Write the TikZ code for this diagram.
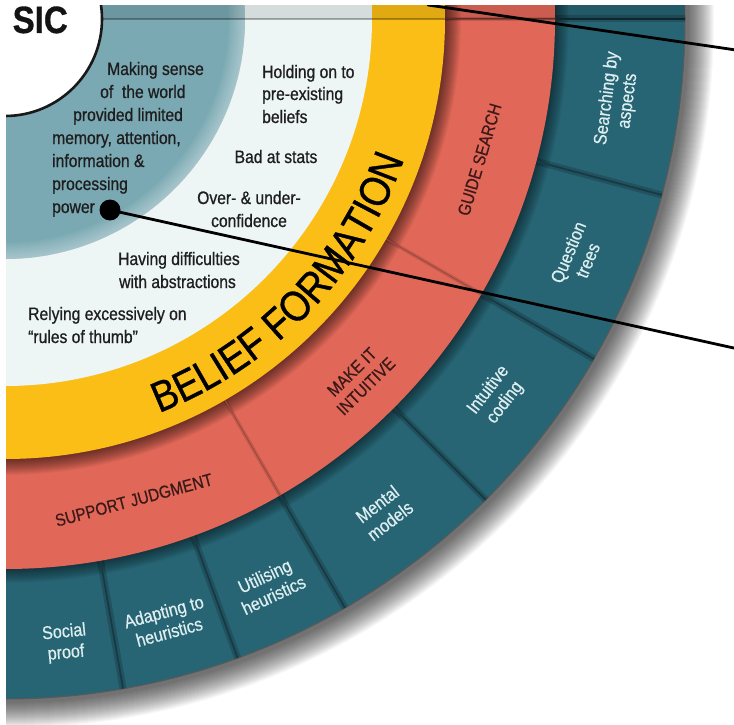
\documentclass[tikz,border=0pt]{standalone}
\usepackage{fontspec}
\setmainfont{Liberation Sans}
\newfontfamily\nar[FakeStretch=0.87,FakeBold=0.8]{Liberation Sans}
\newfontfamily\narl[FakeStretch=0.87,FakeBold=0.5]{Liberation Sans}
\usetikzlibrary{decorations.text}
\definecolor{tealin}{RGB}{122,169,179}
\definecolor{paler}{RGB}{238,245,245}
\definecolor{yel}{RGB}{251,190,22}
\definecolor{cor}{RGB}{225,104,88}
\definecolor{tealout}{RGB}{40,101,116}
\definecolor{divc}{RGB}{24,58,68}
\definecolor{lbl}{RGB}{222,238,240}
\definecolor{redtxt}{RGB}{60,25,25}
\definecolor{txt}{RGB}{30,30,30}
\newcommand\beliefFont{\nar\fontsize{43}{43}\selectfont}
\pgfdeclareradialshading{ballw}{\pgfpoint{0bp}{0bp}}{color(0bp)=(white); color(30bp)=(white); color(42bp)=(black!10); color(48bp)=(black!22); color(50bp)=(black!30)}
\begin{document}
\begin{tikzpicture}[x=1pt,y=1pt,
  ptxt/.style={font=\nar\fontsize{18}{23}\selectfont, text=txt, inner sep=0pt, anchor=base west},
  ptxtc/.style={ptxt, anchor=base},
  redlbl/.style={font=\narl\fontsize{17.5}{20}\selectfont, text=redtxt, align=center, inner sep=0pt},
  outlbl/.style={font=\narl\fontsize{18.5}{21}\selectfont, text=lbl, align=center, inner sep=0pt},
  callout/.style={line width=2.8pt, black, line cap=round}]
\useasboundingbox (0,0) rectangle (734,-725);
\fill[white] (0,0) rectangle (734,-725);
\begin{scope}
\clip (6,-6) rectangle (734,-725);
\begin{scope}[shift={(5,-19)}]
  % drop shadow
  \foreach \i in {1,...,26}{\fill[black, opacity=0.028] (3,-3) circle[radius=680+\i];}
  % outer ring
  \fill[tealout] (0,0) circle[radius=680];
  \draw[black!65, line width=1] (0,0) circle[radius=680];
  \foreach \i in {1,...,14}{\fill[black, opacity=0.035] (0,0) circle[radius=550+\i];}
  \foreach \a in {0,15,30,45,60,70,80}{
    \draw[black, opacity=0.18, line width=7] (-\a:550) -- (-\a:680);
    \draw[divc, line width=1.8] (-\a:550) -- (-\a:680);
  }
  % red ring
  \fill[cor] (0,0) circle[radius=550];
  \foreach \i in {1,...,16}{\fill[black, opacity=0.04] (0,0) circle[radius=440+\i];}
  \foreach \a in {0,30,60}{
    \draw[black, opacity=0.12, line width=4] (-\a:440) -- (-\a:550);
    \draw[cor!70!black, line width=1] (-\a:440) -- (-\a:550);
  }
  % yellow ring
  \fill[yel] (0,0) circle[radius=440];
  % pale ring
  \fill[paler] (0,0) circle[radius=367];
  % inner teal
  \fill[tealin] (0,0) circle[radius=240];
  \foreach \i in {1,...,8}{\fill[white, opacity=0.05, even odd rule] (0,0) circle[radius=240] circle[radius=240-2*\i];}
  % top band (segment above the horizontal divider)
  \begin{scope}
    \clip (0,0) circle[radius=680];
    \fill[black, opacity=0.1] (0,0) rectangle (700,14);
    \draw[black, opacity=0.3, line width=2] (0,0) -- (700,0);
  \end{scope}
  % centre circle
  \shade[shading=ballw] (0,0) circle[radius=97];
  \draw[black!90, line width=2.6] (0,0) circle[radius=97];
  % belief formation
  \path[decorate, decoration={text along path, text align=center,
        text={|\beliefFont|BELIEF FORMATION}}]
        (-80:423) arc[start angle=-80, end angle=-8, radius=423];
  % red ring labels
  \node[redlbl, rotate=73.5] (gs) at (-16.5:495) {GUIDE SEARCH};
  \node[redlbl, rotate=44.5] (mi) at (-45.5:505) {MAKE IT\\INTUITIVE};
  \node[redlbl, rotate=15] (sj) at (-75:498) {SUPPORT JUDGMENT};
  % outer ring labels
  \node[outlbl, rotate=82.5] (sa) at (-7.5:618) {Searching by\\aspects};
  \node[outlbl, rotate=67.5] (qt) at (-22.5:620) {Question\\trees};
  \node[outlbl, rotate=52.5] (ic) at (-37.5:620) {Intuitive\\coding};
  \node[outlbl, rotate=37.5] (mm) at (-52.5:622) {Mental\\models};
  \node[outlbl, rotate=25] (uh) at (-65:625) {Utilising\\heuristics};
  \node[outlbl, rotate=15] (ah) at (-75:624) {Adapting to\\heuristics};
  \node[outlbl, rotate=5.5] (sp) at (-84.5:627) {Social\\proof};
\end{scope}
% centre text
\node[font=\nar\bfseries\fontsize{38}{38}\selectfont, text=black!92, anchor=base east, inner sep=0pt] (sic) at (68,-33) {SIC};
% inner teal text
\node[ptxt] (mk1) at (107,-75) {Making sense};
\node[ptxt] (mk2) at (100,-98) {of~ the world};
\node[ptxt] (mk3) at (73,-121) {provided limited};
\node[ptxt] (mk4) at (52,-144) {memory, attention,};
\node[ptxt] (mk5) at (52,-167) {information \&};
\node[ptxt] (mk6) at (52,-190) {processing};
\node[ptxt] (mk7) at (52,-213) {power};
% pale ring text
\node[ptxt] (ho1) at (262,-78) {Holding on to};
\node[ptxt] (ho2) at (262,-100) {pre-existing};
\node[ptxt] (ho3) at (262,-123) {beliefs};
\node[ptxtc] (bad) at (276,-163) {Bad at stats};
\node[ptxtc] (ov1) at (249,-204) {Over- \& under-};
\node[ptxtc] (ov2) at (249,-227) {confidence};
\node[ptxt] (hv1) at (118,-265) {Having difficulties};
\node[ptxt] (hv2) at (119,-288) {with abstractions};
\node[ptxt] (re1) at (28,-320) {Relying excessively on};
\node[ptxt] (re2) at (28,-343) {“rules of thumb”};
% callout lines
\node[circle, fill=black, minimum size=21pt, inner sep=0pt] (dot) at (110,-210) {};
\coordinate (c2) at (736,-348.5);
\draw[callout] (dot.center) -- (c2);
\coordinate (c1a) at (428,-5);
\coordinate (c1b) at (736,-50);
\draw[callout] (c1a) -- (c1b);
\end{scope}
\end{tikzpicture}
\end{document}
